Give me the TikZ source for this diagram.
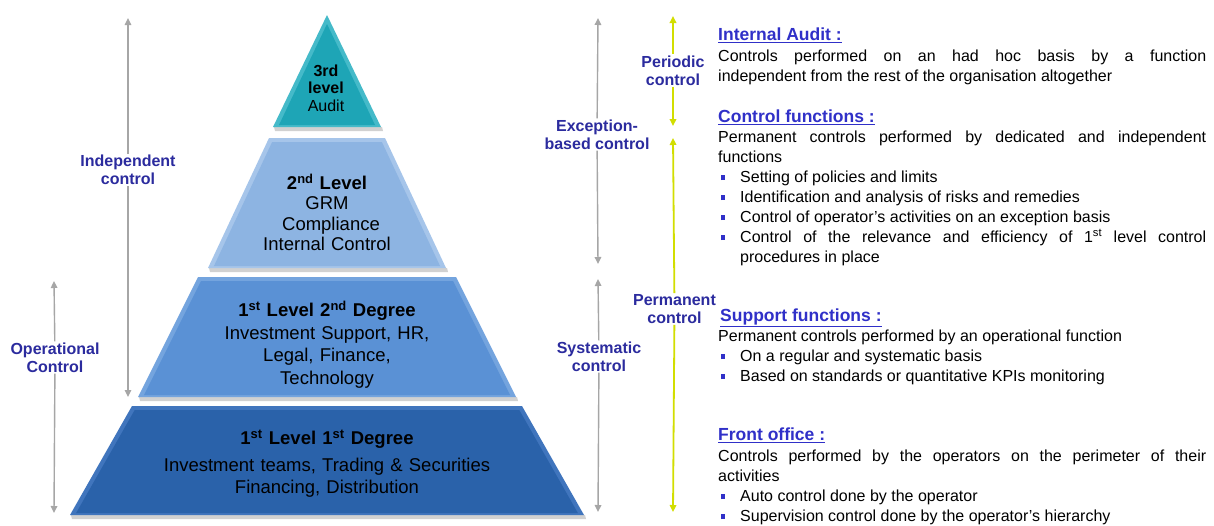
\documentclass[tikz,border=0pt]{standalone}
\usepackage{fontspec}
\setmainfont{Liberation Sans}
\usetikzlibrary{arrows.meta}
\definecolor{lblue}{HTML}{2B2B9E}
\definecolor{hblue}{HTML}{3030C8}
\definecolor{grayarr}{HTML}{A6A6A6}
\definecolor{yelarr}{HTML}{D2DE00}
\definecolor{tealM}{HTML}{1EA5B6}\definecolor{tealE}{HTML}{45BAC9}
\definecolor{ltwoM}{HTML}{8DB4E2}\definecolor{ltwoE}{HTML}{A6C5EA}
\definecolor{lthrM}{HTML}{5A91D5}\definecolor{lthrE}{HTML}{74A4DE}
\definecolor{lfouM}{HTML}{2A62AA}\definecolor{lfouE}{HTML}{4075BD}
\newcommand\pyrlev[6]{%
  \fill[black!18] ({327-#4+1},{#2}) -- ({327+#4+1},{#2}) -- ({327+#4+2},{#2+4}) -- ({327-#4+2},{#2+4}) -- cycle;
  \fill[#5] ({327-#3},{#1}) -- ({327+#3},{#1}) -- ({327+#4},{#2}) -- ({327-#4},{#2}) -- cycle;
  \pgfmathsetmacro\plS{(#4-#3)/(#2-#1)}%
  \pgfmathsetmacro\plT{#3+\plS*4-5}%
  \pgfmathsetmacro\plB{#4-\plS*2-5}%
  \fill[#6] ({327-\plT},{#1+4}) -- ({327+\plT},{#1+4}) -- ({327+\plB},{#2-2}) -- ({327-\plB},{#2-2}) -- cycle;
}
\newcommand\bul{\leavevmode\llap{\textcolor{hblue}{\rule[2.5pt]{4pt}{5pt}}\hspace{15pt}}}
\begin{document}
\begin{tikzpicture}[x=1pt,y=-1pt,
  >={Triangle[length=7pt,width=6.5pt]},
  lbl/.style={font=\bfseries\fontsize{16}{18}\selectfont, text=lblue, align=center, fill=white, inner sep=1pt},
  garr/.style={draw=grayarr, line width=1.4pt},
  yarr/.style={draw=yelarr, line width=1.8pt},
  pyr/.style={anchor=base, inner sep=0, text width=400pt, align=center, font=\fontsize{18.5}{22}\selectfont},
  head/.style={anchor=base west, inner sep=0, text=hblue, font=\bfseries\fontsize{17.5}{20}\selectfont},
  body/.style={anchor=base west, inner sep=0, text width=488pt, align=justify, font=\fontsize{16}{20}\selectfont},
  bullets/.style={anchor=base west, inner sep=0, text width=466pt, align=justify, font=\fontsize{16}{20}\selectfont}]
\useasboundingbox (0,0) rectangle (1214,525);
\fill[white] (0,0) rectangle (1214,525);

% ---------- pyramid ----------
\fill[black!18] (274,127) -- (382,127) -- (383,131) -- (275,131) -- cycle;
\fill[tealE] (327,15) -- (381,127) -- (273,127) -- cycle;
\fill[tealM] (327,24) -- (375,125) -- (279,125) -- cycle;
\pyrlev{138}{268}{58}{119}{ltwoE}{ltwoM}
\pyrlev{277}{397}{129}{189}{lthrE}{lthrM}
\pyrlev{406}{515}{195}{257}{lfouE}{lfouM}

\node[pyr, font=\fontsize{16}{17.5}\selectfont] (t3) at (326,76)
  {\textbf{3rd}\\\textbf{level}\\Audit};
\node[pyr, font=\fontsize{18.5}{20.3}\selectfont] (t2) at (327,189.5)
  {\textbf{2\textsuperscript{nd} Level}\\GRM\\\hspace*{8pt}Compliance\\Internal Control};
\node[pyr, font=\fontsize{18.5}{22.7}\selectfont] (t12) at (327,316.5)
  {\textbf{1\textsuperscript{st} Level 2\textsuperscript{nd} Degree}\\Investment Support, HR,\\Legal, Finance,\\Technology};
\node[pyr] (t11) at (327,444.5)
  {\textbf{1\textsuperscript{st} Level 1\textsuperscript{st} Degree}\\[5pt]Investment teams, Trading \& Securities\\Financing, Distribution};

% ---------- gray arrows ----------
\coordinate (indT) at (128,18);  \coordinate (indB) at (128,397);
\coordinate (opT) at (54,281);   \coordinate (opB) at (54,513);
\coordinate (exT) at (598,18);   \coordinate (exB) at (598,264);
\coordinate (syT) at (598,279);  \coordinate (syB) at (598,512);
\node[lbl] (ind) at (128,170) {Independent\\control};
\node[lbl] (op) at (55,357.5) {Operational\\Control};
\node[lbl] (ex) at (597,134.5) {Exception-\\based control};
\node[lbl] (sy) at (599,356.5) {Systematic\\control};
\draw[garr, <-] (indT) -- (ind);  \draw[garr, ->] (ind) -- (indB);
\draw[garr, <-] (opT) -- (op);    \draw[garr, ->] (op) -- (opB);
\draw[garr, <-] (exT) -- (ex);    \draw[garr, ->] (ex) -- (exB);
\draw[garr, <-] (syT) -- (sy);    \draw[garr, ->] (sy) -- (syB);

% ---------- yellow arrows ----------
\coordinate (peT) at (673,16);  \coordinate (peB) at (673,126);
\coordinate (pmT) at (673,138); \coordinate (pmB) at (673,512);
\node[lbl] (pe) at (673,70.5) {Periodic\\control};
\node[lbl] (pm) at (674.5,309) {Permanent\\control};
\draw[yarr, <-] (peT) -- (pe);  \draw[yarr, ->] (pe) -- (peB);
\draw[yarr, <-] (pmT) -- (pm);  \draw[yarr, ->] (pm) -- (pmB);

% ---------- right column ----------
\node[head] (h1) at (718,40.5) {\underline{Internal Audit :}};
\node[body] (b1) at (718,61.5) {Controls performed on an had hoc basis by a function\linebreak independent from the rest of the organisation altogether};

\node[head] (h2) at (718,122.5) {\underline{Control functions :}};
\node[body] (b2) at (718,142.5) {Permanent controls performed by dedicated and independent\linebreak functions};
\node[bullets] (l2) at (740,182.5) {\bul Setting of policies and limits\par
\bul Identification and analysis of risks and remedies\par
\bul Control of operator's activities on an exception basis\par
\bul Control of the relevance and efficiency of 1\textsuperscript{st} level control\linebreak procedures in place};

\node[head] (h3) at (720,321.5) {\underline{Support functions :}};
\node[body] (b3) at (718,341.5) {Permanent controls performed by an operational function};
\node[bullets] (l3) at (740,361.5) {\bul On a regular and systematic basis\par
\bul Based on standards or quantitative KPIs monitoring};

\node[head] (h4) at (718,440.5) {\underline{Front office :}};
\node[body] (b4) at (718,461.5) {Controls performed by the operators on the perimeter of their\linebreak activities};
\node[bullets] (l4) at (740,501.5) {\bul Auto control done by the operator\par
\bul Supervision control done by the operator's hierarchy};
\end{tikzpicture}
\end{document}
